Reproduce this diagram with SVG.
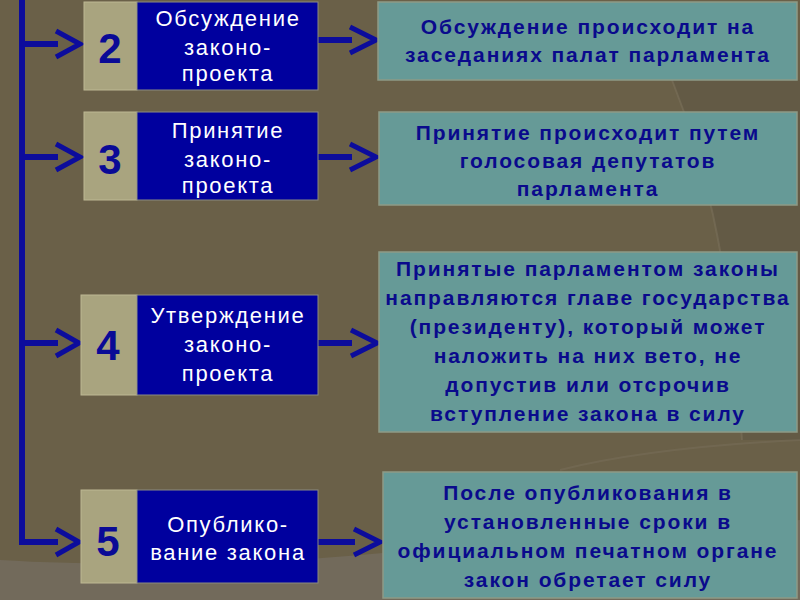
<svg xmlns="http://www.w3.org/2000/svg" width="800" height="600" viewBox="0 0 800 600">
<style>
.num{fill:#a9a47f;stroke:#bdb894;stroke-width:1}
.ttl{fill:#00009e;stroke:#8a8a80;stroke-width:1}
.dsc{fill:#669a97;stroke:#8e9a86;stroke-width:1.5}
.n{font-family:"Liberation Sans",Arial,sans-serif;font-weight:bold;font-size:42px;fill:#0a0a96;text-anchor:middle}
.t{font-family:"Liberation Sans",Arial,sans-serif;font-size:22px;fill:#ffffff;text-anchor:middle;letter-spacing:1.7px}
.d{font-family:"Liberation Sans",Arial,sans-serif;font-weight:bold;font-size:21px;fill:#0a0a8c;text-anchor:middle;letter-spacing:1.9px}
.ln{fill:none;stroke:#0c0c9c;stroke-width:6}
.ch{fill:none;stroke:#0c0c9c;stroke-width:5;stroke-linejoin:miter}
</style>
<rect x="0" y="0" width="800" height="600" fill="#6a6048"/>
<path d="M0,560 C100,566 250,566 383,553 L800,520 L800,600 L0,600 Z" fill="#726a5b"/>
<path d="M672,80 C700,150 730,250 742,440 L800,440 L800,80 Z" fill="#5f5644" opacity="0.6"/>
<path d="M672,80 C700,150 730,250 742,440" fill="none" stroke="#7d745e" stroke-width="2" opacity="0.5"/>
<path d="M560,470 C620,455 700,445 800,440" fill="none" stroke="#7d745e" stroke-width="2" opacity="0.4"/>

<g id="connectors">
<path class="ln" d="M22,0 L22,542 L58,542"/>
<path class="ln" d="M22,44 L58,44"/>
<path class="ln" d="M22,157 L58,157"/>
<path class="ln" d="M22,343 L58,343"/>
<polyline class="ch" points="56,31 80,44 56,57"/>
<polyline class="ch" points="56,144 80,157 56,170"/>
<polyline class="ch" points="56,330 79,343 56,356"/>
<polyline class="ch" points="56,529 79,542 56,555"/>
<path class="ln" d="M318,40 L352,40"/>
<path class="ln" d="M318,157 L352,157"/>
<path class="ln" d="M318,343 L352,343"/>
<path class="ln" d="M318,542 L355,542"/>
<polyline class="ch" points="350,27 376,40 350,53"/>
<polyline class="ch" points="350,144 376,157 350,170"/>
<polyline class="ch" points="351,330 377,343 351,356"/>
<polyline class="ch" points="354,529 380,542 354,555"/>
</g>

<g id="step2">
<rect class="num" x="84" y="2" width="53" height="88"/>
<text class="n" x="110" y="63">2</text>
<rect class="ttl" x="137" y="2" width="181" height="88"/>
<text class="t" x="228" y="26">Обсуждение</text>
<text class="t" x="228" y="55">законо-</text>
<text class="t" x="228" y="81">проекта</text>
</g>
<g id="desc2">
<rect class="dsc" x="378" y="2" width="419" height="78"/>
<text class="d" x="588" y="34">Обсуждение происходит на</text>
<text class="d" x="588" y="62">заседаниях палат парламента</text>
</g>

<g id="step3">
<rect class="num" x="84" y="112" width="53" height="88"/>
<text class="n" x="110" y="174">3</text>
<rect class="ttl" x="137" y="112" width="181" height="88"/>
<text class="t" x="228" y="138">Принятие</text>
<text class="t" x="228" y="167">законо-</text>
<text class="t" x="228" y="193">проекта</text>
</g>
<g id="desc3">
<rect class="dsc" x="379" y="112" width="418" height="93"/>
<text class="d" x="588" y="140">Принятие происходит путем</text>
<text class="d" x="588" y="168">голосовая депутатов</text>
<text class="d" x="588" y="196">парламента</text>
</g>

<g id="step4">
<rect class="num" x="81" y="295" width="56" height="100"/>
<text class="n" x="108" y="360">4</text>
<rect class="ttl" x="137" y="295" width="181" height="100"/>
<text class="t" x="228" y="323">Утверждение</text>
<text class="t" x="228" y="352">законо-</text>
<text class="t" x="228" y="381">проекта</text>
</g>
<g id="desc4">
<rect class="dsc" x="379" y="252" width="418" height="180"/>
<text class="d" x="588" y="276">Принятые парламентом законы</text>
<text class="d" x="588" y="305">направляются главе государства</text>
<text class="d" x="588" y="334">(президенту), который может</text>
<text class="d" x="588" y="363">наложить на них вето, не</text>
<text class="d" x="588" y="392">допустив или отсрочив</text>
<text class="d" x="588" y="421">вступление закона в силу</text>
</g>

<g id="step5">
<rect class="num" x="81" y="490" width="56" height="93"/>
<text class="n" x="108" y="556">5</text>
<rect class="ttl" x="137" y="490" width="181" height="93"/>
<text class="t" x="228" y="532">Опублико-</text>
<text class="t" x="228" y="560">вание закона</text>
</g>
<g id="desc5">
<rect class="dsc" x="383" y="472" width="414" height="126"/>
<text class="d" x="588" y="500">После опубликования в</text>
<text class="d" x="588" y="529">установленные сроки в</text>
<text class="d" x="588" y="558">официальном  печатном органе</text>
<text class="d" x="588" y="587">закон обретает силу</text>
</g>
</svg>
